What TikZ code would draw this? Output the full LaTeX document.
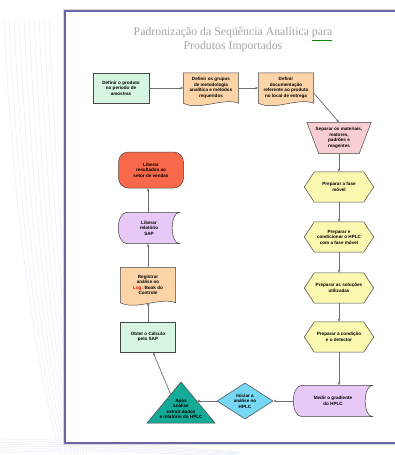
\documentclass[tikz,border=0pt]{standalone}
\usepackage{fontspec}
\setmainfont{Liberation Serif}
\newfontfamily\boxfont{Liberation Sans}
\usetikzlibrary{shapes.geometric,arrows.meta}
\pgfdeclarelayer{back}
\pgfdeclarelayer{bg}
\pgfsetlayers{back,bg,main}
\definecolor{framecol}{RGB}{104,104,168}
\definecolor{edgecol}{RGB}{70,70,70}
\definecolor{conncol}{RGB}{110,110,110}
\definecolor{mint}{RGB}{214,246,226}
\definecolor{peach}{RGB}{253,212,168}
\definecolor{pinkc}{RGB}{248,206,210}
\definecolor{yellowc}{RGB}{251,248,176}
\definecolor{lilac}{RGB}{232,200,246}
\definecolor{skyc}{RGB}{118,216,244}
\definecolor{tealc}{RGB}{22,170,152}
\definecolor{tomato}{RGB}{248,104,74}
\definecolor{decoblue}{RGB}{238,242,250}
\definecolor{titlegray}{RGB}{165,165,165}
\newcommand\docshape[2]{\begin{pgfonlayer}{bg}\filldraw[shapeline, fill=#2] (#1.north west) -- (#1.north east) -- (#1.south east) .. controls ([shift={(-16,-6)}]#1.south east) and ([shift={(16,8)}]#1.south west) .. (#1.south west) -- cycle;\end{pgfonlayer}}
\newcommand\storeshape[2]{\begin{pgfonlayer}{bg}\filldraw[shapeline, fill=#2] (#1.north east) -- ([shift={(9,0)}]#1.north west) .. controls ([shift={(-3,0)}]#1.north west) and ([shift={(-3,0)}]#1.south west) .. ([shift={(9,0)}]#1.south west) -- (#1.south east) .. controls ([shift={(-10,0)}]#1.south east) and ([shift={(-10,0)}]#1.north east) .. (#1.north east) -- cycle;\end{pgfonlayer}}
\newcommand\hexshape[2]{\begin{pgfonlayer}{bg}\filldraw[shapeline, fill=#2] (#1.west) -- ([shift={(10,0)}]#1.north west) -- ([shift={(-10,0)}]#1.north east) -- (#1.east) -- ([shift={(-10,0)}]#1.south east) -- ([shift={(10,0)}]#1.south west) -- cycle;\end{pgfonlayer}}
\newcommand\trapshape[2]{\begin{pgfonlayer}{bg}\filldraw[shapeline, fill=#2] (#1.north west) -- (#1.north east) -- ([shift={(-12,0)}]#1.south east) -- ([shift={(12,0)}]#1.south west) -- cycle;\end{pgfonlayer}}
\tikzset{
  shapeline/.style={draw=edgecol, line width=0.5pt},
  base/.style={inner sep=0pt, align=center, text=black,
    font=\boxfont\bfseries\fontsize{4.6}{5.5}\selectfont},
  sized/.style 2 args={minimum width=#1, minimum height=#2},
  conn/.style={draw=conncol, line width=0.7pt, -{Stealth[length=3.2pt,width=2.6pt]}},
}
\begin{document}
\begin{tikzpicture}[x=1pt,y=-1pt]
\useasboundingbox (0,0) rectangle (395,455);
\begin{pgfonlayer}{back}
\fill[white] (0,0) rectangle (395,455);
% faint slide decoration
\foreach \i in {0,...,9} {
  \draw[decoblue, line width=0.7pt] (4+\i*5,20) .. controls (12+\i*5,180) and (28+\i*4,330) .. (60+\i*3,455);
}
\foreach \i in {0,...,5} {
  \draw[decoblue, line width=0.8pt] (0,440+\i*2.5) .. controls (80,438+\i*2) and (160,446+\i*1.5) .. (240,452+\i);
}
% frame
\draw[gray!30, line width=2.6pt] (64,10) rectangle (412,444);
\filldraw[fill=white, draw=framecol, line width=1.4pt] (65,11) rectangle (410,443);
\end{pgfonlayer}
% title
\node[font=\fontsize{11.8}{14}\selectfont, text=titlegray, align=center] (title) at (233,40)
  {Padronização da Seqüência Analítica \textcolor{green!55!black}{\underline{\textcolor{titlegray}{para}}}\\Produtos Importados};
% top row
\node[base, draw=edgecol, line width=0.5pt, fill=mint, sized={56}{30}] (b1) at (121,88) {Definir o produto\\no período de\\amostras};
\node[base, sized={55}{30}] (b2) at (211,88) {Definir os grupos\\de metodologia\\analítica e métodos\\requeridos};
\docshape{b2}{peach}
\node[base, sized={55}{30}] (b3) at (286,88) {Definir\\documentação\\referente ao produto\\no local de entrega};
\docshape{b3}{peach}
% right column
\node[base, sized={64}{31}] (tz) at (339,138) {Separar os materiais,\\reatores,\\padrões e\\reagentes};
\trapshape{tz}{pinkc}
\node[base, sized={69}{30}] (h1) at (339,187) {Preparar a fase\\móvel};
\hexshape{h1}{yellowc}
\node[base, sized={69}{30}] (h2) at (339,237) {Preparar e\\condicionar o HPLC\\com a fase móvel};
\hexshape{h2}{yellowc}
\node[base, sized={69}{30}] (h3) at (339,288) {Preparar as soluções\\utilizadas};
\hexshape{h3}{yellowc}
\node[base, sized={69}{30}] (h4) at (339,337) {Preparar a condição\\e o detector};
\hexshape{h4}{yellowc}
\node[base, sized={79}{31}] (tr) at (333,401) {Medir o gradiente\\do HPLC};
\storeshape{tr}{lilac}
% bottom row
\node[base, diamond, aspect=1.5, draw=edgecol, line width=0.5pt, fill=skyc, sized={56}{36}] (dm) at (245,401) {Iniciar a\\análise no\\HPLC};
\node[base] (tri) at (181,409) {Após\\análise\\extrair dados\\e relatório do HPLC};
\coordinate (triA) at (181,382);
\coordinate (triB) at (215,423);
\coordinate (triC) at (147,423);
\coordinate (triR) at (197,401);
\coordinate (triL) at (171,395);
\begin{pgfonlayer}{bg}
\filldraw[shapeline, fill=tealc] (triA) -- (triB) -- (triC) -- cycle;
\end{pgfonlayer}
% left column
\node[base, draw=edgecol, line width=0.5pt, fill=mint, sized={55}{30}] (gl) at (148,337) {Obter o Cálculo\\pelo SAP};
\node[base, sized={55}{35}] (ol) at (148,285) {Registrar\\análise no\\\textcolor{red}{Log.} Book do\\Controle};
\docshape{ol}{peach}
\node[base, sized={61}{31}] (pl) at (149,228) {Liberar\\relatório\\SAP};
\storeshape{pl}{lilac}
\node[base, draw=edgecol, line width=0.5pt, fill=tomato, rounded corners=10pt, sized={65}{36}] (rd) at (151,170) {Liberar\\resultados ao\\setor de vendas};
% connectors
\draw[conn] (b1.east) -- (b2.west);
\draw[conn] (b2.east) -- (b3.west);
\draw[conn] ([shift={(0,5)}]b3.east) -- (tz.north);
\draw[conn] (tz.south) -- (h1.north);
\draw[conn] (h1.south) -- (h2.north);
\draw[conn] (h2.south) -- (h3.north);
\draw[conn] (h3.south) -- (h4.north);
\draw[conn] (h4.south) -- (h4.south |- tr.north);
\draw[conn] (tr.west) -- (dm.east);
\draw[conn] (dm.west) -- (triR);
\draw[conn] (triL) -- ([shift={(5,0)}]gl.south);
\draw[conn] (gl.north) -- (gl.north |- ol.south);
\draw[conn] (ol.north) -- (ol.north |- pl.south);
\draw[conn] (ol.north |- pl.north) -- (ol.north |- rd.south);
\end{tikzpicture}
\end{document}
